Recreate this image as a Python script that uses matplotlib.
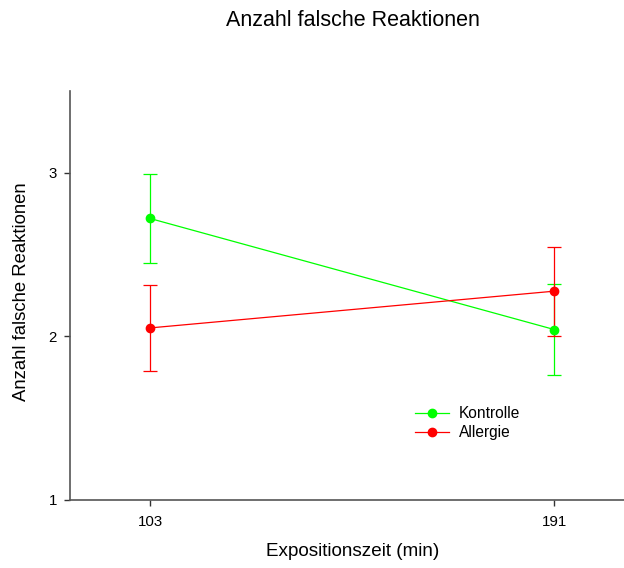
import matplotlib.pyplot as plt

plt.rcParams['font.family'] = ['Liberation Sans', 'DejaVu Sans']

# Daten
zeiten = [103, 191]
kontrolle = [2.72, 2.04]
kontrolle_err = [0.27, 0.28]
allergie = [2.05, 2.275]
allergie_err = [0.265, 0.272]

fig = plt.figure(figsize=(6.24, 5.68), dpi=100)
W, H = 624, 568
ax = fig.add_axes([70 / W, (H - 499.5) / H, (626 - 70) / W, (499.5 - 91) / H])

ax.errorbar(zeiten, kontrolle, yerr=kontrolle_err, color='#00ff00', marker='o',
            markersize=6, linewidth=0.9, elinewidth=0.9, capsize=5, capthick=0.9,
            label='Kontrolle')
ax.errorbar(zeiten, allergie, yerr=allergie_err, color='#ff0000', marker='o',
            markersize=6, linewidth=0.9, elinewidth=0.9, capsize=5, capthick=0.9,
            label='Allergie')

ax.set_xlim(85.6, 206.6)
ax.set_ylim(1, 3.5)
ax.set_xticks(zeiten)
ax.set_yticks([1, 2, 3])

for s in ['top', 'right']:
    ax.spines[s].set_visible(False)
for s in ['left', 'bottom']:
    ax.spines[s].set_color('#555555')
    ax.spines[s].set_linewidth(1.2)
ax.tick_params(direction='out', length=4.3, width=1, color='#333333',
               labelsize=10.8)
ax.tick_params(axis='x', pad=7)
ax.tick_params(axis='y', pad=5)

fig.text(353 / W, 1 - 20 / H, 'Anzahl falsche Reaktionen', ha='center', va='center',
         fontsize=15.5)
fig.text(22 / W, 1 - 292 / H, 'Anzahl falsche Reaktionen', ha='center', va='center',
         rotation=90, fontsize=13.3)
fig.text(353 / W, 1 - 552 / H, 'Expositionszeit (min)', ha='center', va='center',
         fontsize=13.6)

handles, labels = ax.get_legend_handles_labels()
handles = [h[0] for h in handles]
fig.legend(handles, labels, loc='center left', bbox_to_anchor=(401 / W, 1 - 423 / H),
           frameon=False, fontsize=11.2, handlelength=2.2, handletextpad=0.62,
           labelspacing=0.25)

fig.savefig('out.png', dpi=100)
